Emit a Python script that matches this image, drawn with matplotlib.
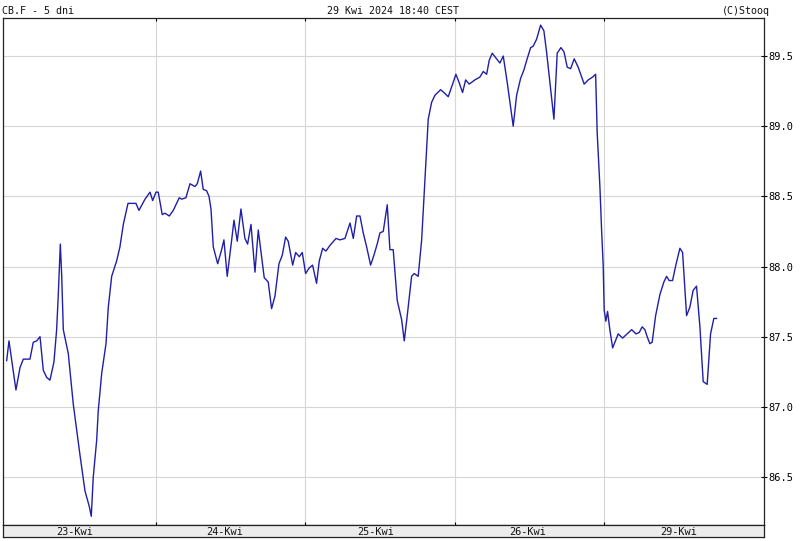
import matplotlib

matplotlib.use("Agg")
import matplotlib.pyplot as plt

# position on the 5-session axis (150 units per session) and price
t = [
    0.0, 2.3, 9.3, 13.4, 16.7, 23.4, 26.7, 30.1, 33.5, 36.8, 40.2, 43.5, 47.5,
    50.2, 51.8, 53.9, 55.3, 56.9, 61.9, 66.9, 73.6, 78.7, 83.0, 85.0, 87.0,
    90.4, 92.0, 95.5, 99.8, 102.1, 105.5, 110.5, 113.8, 117.2, 121.9, 129.9,
    132.9, 139.0, 144.0, 146.7, 150.0, 152.3, 156.3, 159.0, 163.4, 167.4,
    173.4, 175.8, 180.1, 184.2, 189.2, 191.5, 194.9, 197.5, 200.9, 203.3,
    205.3, 207.6, 212.0, 216.0, 218.3, 221.6, 226.1, 228.4, 231.7, 235.4,
    239.4, 242.1, 245.5, 249.5, 252.8, 256.2, 258.8, 262.8, 266.2, 269.6,
    273.6, 276.9, 280.3, 282.9, 287.4, 290.4, 294.0, 297.0, 300.4, 304.0,
    307.4, 311.4, 314.1, 317.5, 320.8, 324.8, 330.9, 334.9, 339.9, 345.0,
    348.3, 351.7, 355.0, 358.3, 361.7, 365.7, 369.0, 372.3, 375.1, 378.4,
    382.4, 385.1, 388.4, 392.4, 396.9, 399.5, 402.5, 406.9, 409.5, 413.5,
    417.0, 420.3, 423.6, 427.0, 430.3, 436.0, 439.4, 443.7, 448.1, 451.4,
    454.7, 458.1, 461.2, 464.8, 470.5, 475.5, 478.9, 482.3, 484.9, 487.9,
    492.3, 495.6, 499.0, 503.0, 509.0, 512.4, 516.4, 519.7, 523.0, 526.5,
    529.1, 532.5, 536.5, 539.8, 542.5, 545.9, 549.9, 553.2, 556.9, 560.0,
    563.3, 566.7, 570.3, 574.3, 580.3, 584.4, 588.8, 591.8, 593.4, 596.1,
    597.8, 599.4, 600.4, 602.1, 603.8, 606.1, 608.9, 614.5, 618.9, 623.5,
    628.0, 632.3, 635.6, 638.6, 641.3, 643.6, 646.3, 648.6, 652.1, 656.4,
    660.4, 663.1, 665.7, 669.1, 672.4, 676.5, 679.2, 683.2, 686.5, 689.8,
    693.2, 696.6, 699.9, 703.9, 707.3, 710.6, 713.3,
]
price = [
    87.33, 87.47, 87.12, 87.28, 87.34, 87.34, 87.46, 87.47, 87.50, 87.26,
    87.21, 87.19, 87.32, 87.55, 87.79, 88.16, 87.93, 87.55, 87.38, 87.02,
    86.66, 86.40, 86.29, 86.22, 86.50, 86.76, 86.97, 87.24, 87.45, 87.71,
    87.93, 88.04, 88.14, 88.30, 88.45, 88.45, 88.40, 88.48, 88.53, 88.47,
    88.53, 88.53, 88.37, 88.38, 88.36, 88.40, 88.49, 88.48, 88.49, 88.59,
    88.57, 88.59, 88.68, 88.55, 88.54, 88.50, 88.41, 88.14, 88.02, 88.12,
    88.19, 87.93, 88.19, 88.33, 88.18, 88.41, 88.20, 88.16, 88.30, 87.96,
    88.26, 88.07, 87.92, 87.89, 87.70, 87.79, 88.02, 88.08, 88.21, 88.18,
    88.01, 88.10, 88.07, 88.10, 87.95, 87.99, 88.01, 87.88, 88.04, 88.13,
    88.11, 88.15, 88.20, 88.19, 88.20, 88.31, 88.20, 88.36, 88.36, 88.24,
    88.14, 88.01, 88.08, 88.16, 88.24, 88.25, 88.44, 88.12, 88.12, 87.76,
    87.62, 87.47, 87.65, 87.93, 87.95, 87.93, 88.19, 88.62, 89.05, 89.17,
    89.22, 89.26, 89.24, 89.21, 89.30, 89.37, 89.31, 89.24, 89.33, 89.30,
    89.33, 89.35, 89.39, 89.37, 89.47, 89.52, 89.48, 89.45, 89.50, 89.31,
    89.00, 89.22, 89.34, 89.40, 89.48, 89.56, 89.57, 89.62, 89.72, 89.68,
    89.53, 89.31, 89.05, 89.52, 89.56, 89.53, 89.42, 89.41, 89.48, 89.42,
    89.30, 89.33, 89.35, 89.37, 88.95, 88.57, 88.26, 88.01, 87.69, 87.61,
    87.68, 87.55, 87.42, 87.52, 87.49, 87.52, 87.55, 87.52, 87.53, 87.57,
    87.55, 87.50, 87.45, 87.46, 87.65, 87.80, 87.89, 87.93, 87.90, 87.90,
    88.01, 88.13, 88.10, 87.65, 87.71, 87.83, 87.86, 87.57, 87.18, 87.16,
    87.52, 87.63, 87.63,
]

day_bounds = [150, 300, 450, 600]
day_label_pos = [68, 219, 371, 523, 675]
day_labels = ["23-Kwi", "24-Kwi", "25-Kwi", "26-Kwi", "29-Kwi"]
y_ticks = [86.5, 87.0, 87.5, 88.0, 88.5, 89.0, 89.5]

W, H = 804, 541
mono = "DejaVu Sans Mono"

fig = plt.figure(figsize=(W / 100, H / 100), dpi=100, facecolor="white")
ax = fig.add_axes([3 / W, (H - 525) / H, 761 / W, 507 / H])
band = fig.add_axes([3 / W, (H - 537) / H, 761 / W, 12 / H])

ax.plot(t, price, color="#1f1fa8", linewidth=1.0)
ax.set_xlim(-3.7, 761)
ax.set_ylim(86.158, 89.771)

ax.set_yticks(y_ticks)
ax.set_yticklabels([f"{v:.1f}" for v in y_ticks], family=mono, fontsize=7.5)
ax.yaxis.tick_right()
ax.tick_params(axis="y", direction="inout", length=4.5, width=0.8, pad=0.8,
               left=False, right=True)
ax.set_xticks(day_bounds)
ax.tick_params(axis="x", direction="in", length=2.5, width=0.8,
               top=True, bottom=True, labelbottom=False)
ax.grid(True, color="#d6d6d6", linewidth=0.8)
ax.set_axisbelow(True)
for sp in ax.spines.values():
    sp.set_color("#222222")
    sp.set_linewidth(0.9)

band.set_facecolor("#ececec")
band.set_xlim(ax.get_xlim())
band.set_ylim(0, 1)
band.set_xticks([])
band.set_yticks([])
for sp in band.spines.values():
    sp.set_color("#222222")
    sp.set_linewidth(0.9)
for pos, lab in zip(day_label_pos, day_labels):
    band.text(pos, 0.45, lab, ha="center", va="center", family=mono,
              fontsize=7.4, color="#111111")

fig.text(2 / W, (H - 14) / H, "CB.F - 5 dni", ha="left", va="baseline",
         family=mono, fontsize=7.2, color="#111111")
fig.text(393 / W, (H - 14) / H, "29 Kwi 2024 18:40 CEST", ha="center",
         va="baseline", family=mono, fontsize=7.2, color="#111111")
fig.text(770 / W, (H - 14) / H, "(C)Stooq", ha="right", va="baseline",
         family=mono, fontsize=7.2, color="#111111")

fig.savefig("out.png", dpi=100, facecolor="white")
